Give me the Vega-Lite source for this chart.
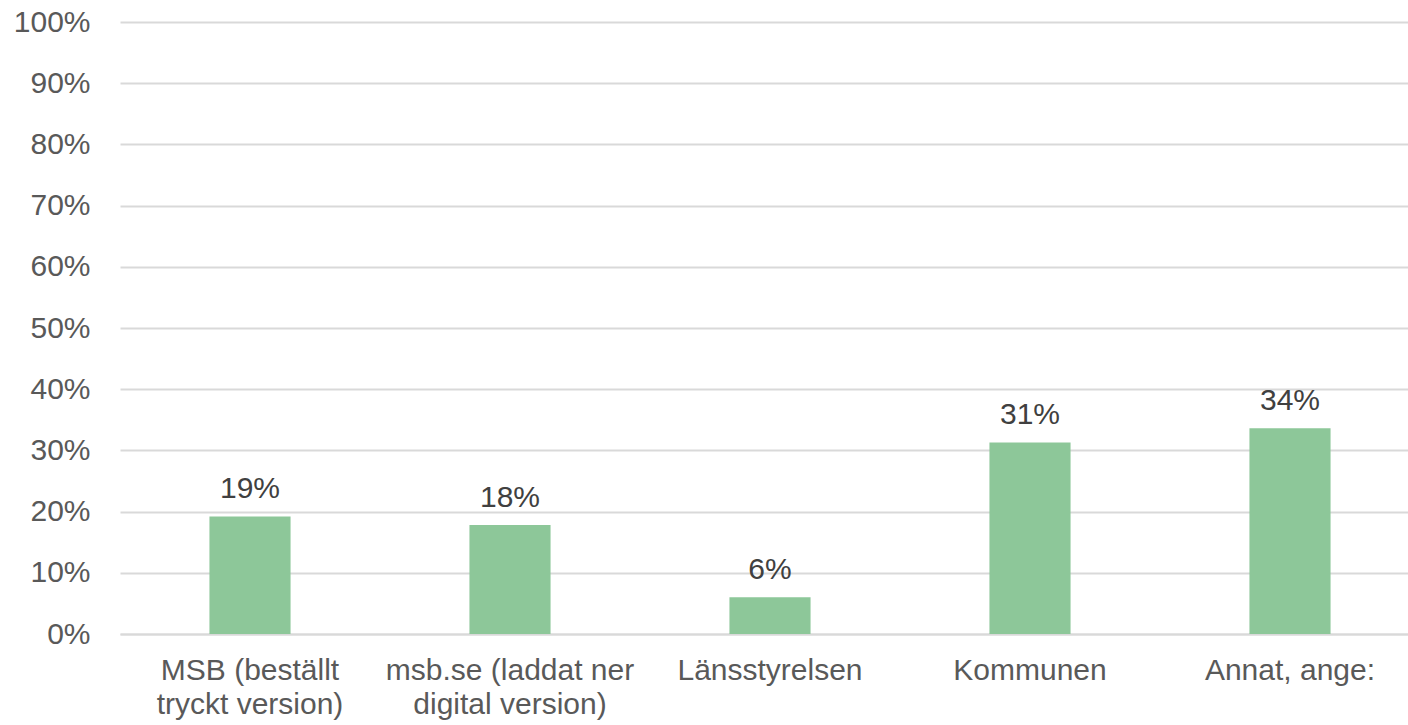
{
  "$schema": "https://vega.github.io/schema/vega-lite/v6.json",
  "width": 1300,
  "height": 612,
  "autosize": {"type": "none"},
  "padding": {"left": 120, "top": 22, "right": 0, "bottom": 91},
  "background": "white",
  "config": {"view": {"stroke": null}, "font": "Liberation Sans"},
  "data": {
    "values": [
      {"kategori": "MSB (beställt tryckt version)", "andel": 0.192},
      {"kategori": "msb.se (laddat ner digital version)", "andel": 0.178},
      {"kategori": "Länsstyrelsen", "andel": 0.06},
      {"kategori": "Kommunen", "andel": 0.313},
      {"kategori": "Annat, ange:", "andel": 0.336}
    ]
  },
  "encoding": {
    "x": {
      "field": "kategori",
      "type": "nominal",
      "sort": null,
      "scale": {"paddingInner": 0.688, "paddingOuter": 0.344},
      "axis": {
        "title": null,
        "labelAngle": 0,
        "ticks": false,
        "domain": true,
        "domainColor": "#D9D9D9",
        "domainWidth": 2,
        "labelFont": "Liberation Sans",
        "labelFontSize": 30,
        "labelColor": "#595959",
        "labelPadding": 21,
        "labelLineHeight": 34,
        "labelLimit": 300,
        "labelExpr": "datum.label == 'MSB (beställt tryckt version)' ? ['MSB (beställt', 'tryckt version)'] : datum.label == 'msb.se (laddat ner digital version)' ? ['msb.se (laddat ner', 'digital version)'] : datum.label"
      }
    },
    "y": {
      "field": "andel",
      "type": "quantitative",
      "scale": {"domain": [0, 1], "nice": false},
      "axis": {
        "title": null,
        "values": [0, 0.1, 0.2, 0.3, 0.4, 0.5, 0.6, 0.7, 0.8, 0.9, 1],
        "format": ".0%",
        "ticks": false,
        "domain": false,
        "grid": true,
        "gridColor": "#D9D9D9",
        "gridWidth": 2,
        "labelFont": "Liberation Sans",
        "labelFontSize": 30,
        "labelColor": "#595959",
        "labelPadding": 30
      }
    }
  },
  "layer": [
    {"mark": {"type": "bar", "color": "#8DC799"}},
    {
      "mark": {"type": "text", "baseline": "alphabetic", "dy": -18, "fontSize": 30, "color": "#404040", "font": "Liberation Sans"},
      "encoding": {"text": {"field": "andel", "type": "quantitative", "format": ".0%"}}
    }
  ]
}
